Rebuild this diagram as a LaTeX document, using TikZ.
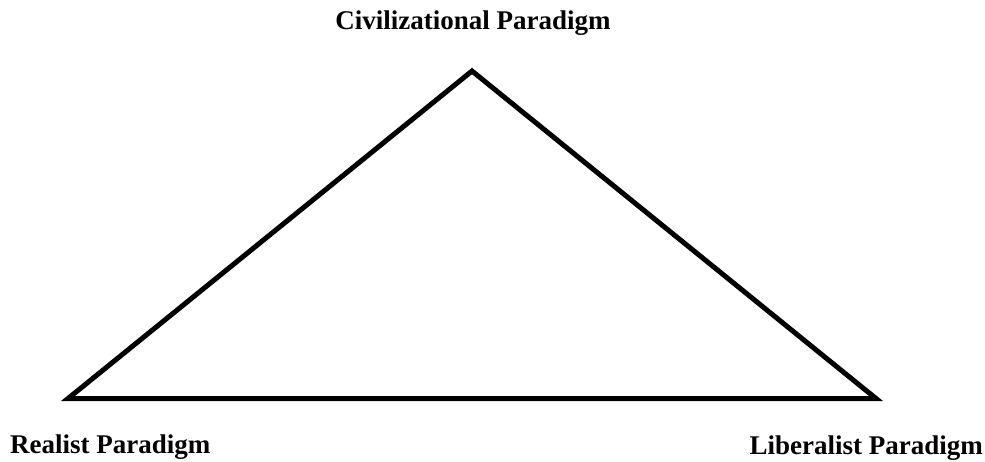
\documentclass[tikz,border=0pt]{standalone}
\usepackage{fontspec}
\setmainfont{Liberation Serif}
\begin{document}
\begin{tikzpicture}[x=1pt,y=-1pt,
  lbl/.style={font=\fontsize{27}{30}\selectfont\bfseries, inner sep=0pt},
  edge/.style={line width=5pt, line join=miter}]
\useasboundingbox (0,0) rectangle (985,461);
\coordinate (T) at (472,71);
\coordinate (L) at (68,398.5);
\coordinate (R) at (876,398.5);
\draw[edge] (T) -- (L) -- (R) -- cycle;
\node[lbl, anchor=base] (civ) at (473,29) {Civilizational Paradigm};
\node[lbl, anchor=base west] (real) at (10,453) {Realist Paradigm};
\node[lbl, anchor=base east] (lib) at (983,454) {Liberalist Paradigm};
\end{tikzpicture}
\end{document}
